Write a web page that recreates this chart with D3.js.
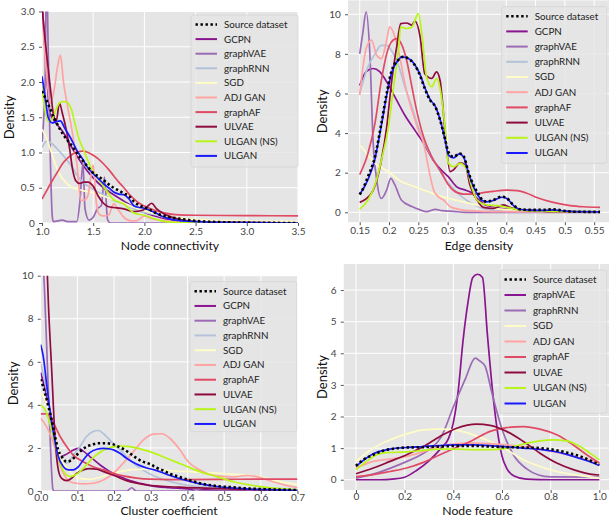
<!DOCTYPE html>
<html><head><meta charset="utf-8">
<script src="https://cdn.jsdelivr.net/npm/d3@7"></script>
<style>
body{margin:0;background:#fff}
text{font-family:Lato,'DejaVu Sans',sans-serif}
</style>
</head><body>
<svg id="c" width="609" height="518"></svg>
<script>
// ---------- legend / series ----------
const seriesNames = ["Source dataset","GCPN","graphVAE","graphRNN","SGD","ADJ GAN","graphAF","ULVAE","ULGAN (NS)","ULGAN"];
const seriesNamesNF = ["Source dataset","graphVAE","graphRNN","SGD","ADJ GAN","graphAF","ULVAE","ULGAN (NS)","ULGAN"];
const seriesColors = ["#000000","#8a1590","#9b6bb5","#b3c2d9","#fffcc6","#ffa3a3","#e04a64","#8e0b3f","#b8f516","#1a1aff"];
const seriesColorsNF = ["#000000","#8a1590","#9b6bb5","#fffcc6","#ffa3a3","#e04a64","#8e0b3f","#b8f516","#1a1aff"];

// ---------- axis labels / ticks ----------
const axisTitles = [["Node connectivity","Density"],["Edge density","Density"],["Cluster coefficient","Density"],["Node feature","Density"]];
const ncXTicks = [1.0,1.5,2.0,2.5,3.0,3.5], ncXLabels = ["1.0","1.5","2.0","2.5","3.0","3.5"];
const ncYTicks = [0,0.5,1.0,1.5,2.0,2.5,3.0], ncYLabels = ["0","0.5","1.0","1.5","2.0","2.5","3.0"];
const edXTicks = [0.15,0.2,0.25,0.3,0.35,0.4,0.45,0.5,0.55], edXLabels = ["0.15","0.2","0.25","0.3","0.35","0.4","0.45","0.5","0.55"];
const edYTicks = [0,2,4,6,8,10], edYLabels = ["0","2","4","6","8","10"];
const ccXTicks = [0,0.1,0.2,0.3,0.4,0.5,0.6,0.7], ccXLabels = ["0.0","0.1","0.2","0.3","0.4","0.5","0.6","0.7"];
const ccYTicks = [0,2,4,6,8,10], ccYLabels = ["0","2","4","6","8","10"];
const nfXTicks = [0,0.2,0.4,0.6,0.8,1.0], nfXLabels = ["0","0.2","0.4","0.6","0.8","1.0"];
const nfYTicks = [0,1,2,3,4,5,6], nfYLabels = ["0","1","2","3","4","5","6"];

// ---------- Node connectivity ----------
const ncSource = [[1.0,1.87],[1.05,1.72],[1.1,1.55],[1.15,1.4],[1.2,1.27],[1.25,1.17],[1.3,1.08],[1.35,0.97],[1.4,0.88],[1.45,0.79],[1.5,0.71],[1.55,0.66],[1.6,0.61],[1.65,0.55],[1.7,0.5],[1.75,0.46],[1.8,0.42],[1.85,0.38],[1.9,0.3],[1.95,0.25],[2.0,0.22],[2.05,0.19],[2.1,0.15],[2.15,0.12],[2.2,0.1],[2.3,0.07],[2.4,0.05],[2.5,0.03],[2.6,0.02],[2.8,0.01],[3.0,0.005],[3.5,0]];
const ncGCPN = [[1.0,3.2],[1.04,2.2],[1.08,1.55],[1.12,1.45],[1.2,1.3],[1.3,1.05],[1.4,0.82],[1.5,0.64],[1.6,0.5],[1.7,0.4],[1.8,0.31],[1.9,0.22],[2.0,0.15],[2.1,0.1],[2.2,0.06],[2.4,0.02],[2.6,0.01],[3.5,0]];
const ncGraphVAE = [[1.0,1.15],[1.03,2.0],[1.045,3.6],[1.06,2.5],[1.08,1.0],[1.1,0.1],[1.11,0.02],[1.2,0.04],[1.25,0.02],[1.34,0.02],[1.37,0.3],[1.4,0.85],[1.42,0.2],[1.46,0.04],[1.5,0.08],[1.54,0.2],[1.58,0.25],[1.61,0.65],[1.64,0.05],[1.67,0],[3.5,0]];
const ncGraphRNN = [[1.0,1.07],[1.05,1.16],[1.1,1.12],[1.15,1.05],[1.2,0.97],[1.25,0.88],[1.3,0.78],[1.35,0.66],[1.4,0.58],[1.5,0.48],[1.6,0.4],[1.7,0.32],[1.8,0.27],[1.9,0.2],[2.0,0.15],[2.1,0.12],[2.2,0.08],[2.4,0.04],[2.6,0.02],[3.0,0.01],[3.5,0]];
const ncSGD = [[1.0,1.33],[1.05,1.18],[1.1,0.96],[1.15,0.76],[1.2,0.63],[1.25,0.55],[1.3,0.5],[1.4,0.46],[1.5,0.43],[1.6,0.38],[1.7,0.33],[1.8,0.28],[1.9,0.22],[2.0,0.17],[2.2,0.1],[2.5,0.05],[3.0,0.03],[3.5,0.02]];
const ncAdjGAN = [[1.0,3.0],[1.04,2.2],[1.08,1.7],[1.12,1.9],[1.15,2.2],[1.18,2.38],[1.21,2.0],[1.25,1.65],[1.3,1.25],[1.34,0.85],[1.38,0.32],[1.42,0.33],[1.45,0.4],[1.5,0.82],[1.53,0.3],[1.56,0.12],[1.6,0.1],[1.65,0.11],[1.7,0.27],[1.74,0.2],[1.8,0.08],[1.87,0.03],[1.92,0.03],[2.0,0.1],[2.05,0.07],[2.1,0.05],[2.2,0.03],[2.4,0.01],[3.5,0]];
const ncGraphAF = [[1.0,0.34],[1.05,0.47],[1.1,0.6],[1.15,0.72],[1.2,0.84],[1.25,0.92],[1.3,0.98],[1.35,1.01],[1.4,1.02],[1.45,1.0],[1.5,0.96],[1.55,0.91],[1.6,0.84],[1.65,0.76],[1.7,0.67],[1.75,0.58],[1.8,0.5],[1.85,0.41],[1.9,0.34],[1.95,0.28],[2.0,0.24],[2.1,0.18],[2.2,0.14],[2.3,0.12],[2.5,0.11],[3.0,0.105],[3.5,0.1]];
const ncULVAE = [[1.0,3.05],[1.03,2.6],[1.06,2.2],[1.09,1.8],[1.11,1.55],[1.14,1.45],[1.17,1.7],[1.2,1.55],[1.24,1.3],[1.27,1.05],[1.3,0.75],[1.33,0.6],[1.37,0.56],[1.41,0.58],[1.45,0.58],[1.5,0.52],[1.55,0.38],[1.6,0.28],[1.65,0.23],[1.7,0.22],[1.8,0.2],[1.9,0.16],[1.98,0.18],[2.02,0.22],[2.07,0.28],[2.12,0.2],[2.18,0.14],[2.25,0.09],[2.35,0.05],[2.5,0.02],[2.7,0.01],[3.5,0]];
const ncULGANNS = [[1.0,1.94],[1.03,1.6],[1.06,1.44],[1.09,1.45],[1.12,1.55],[1.16,1.68],[1.19,1.72],[1.23,1.72],[1.26,1.69],[1.29,1.6],[1.32,1.42],[1.36,1.2],[1.4,1.06],[1.45,0.88],[1.5,0.72],[1.55,0.62],[1.6,0.52],[1.65,0.42],[1.7,0.33],[1.75,0.3],[1.8,0.27],[1.85,0.2],[1.9,0.14],[2.0,0.11],[2.1,0.06],[2.2,0.02],[2.3,0.01],[3.5,0]];
const ncULGAN = [[1.0,2.08],[1.03,1.8],[1.06,1.5],[1.1,1.42],[1.14,1.44],[1.18,1.45],[1.22,1.35],[1.27,1.23],[1.31,1.12],[1.34,1.03],[1.4,0.9],[1.44,0.8],[1.5,0.7],[1.55,0.63],[1.6,0.56],[1.65,0.5],[1.7,0.44],[1.75,0.41],[1.8,0.4],[1.85,0.34],[1.9,0.24],[1.95,0.22],[2.0,0.21],[2.05,0.18],[2.1,0.15],[2.15,0.11],[2.2,0.08],[2.3,0.04],[2.5,0.02],[2.7,0.01],[3.5,0]];

// ---------- Edge density ----------
const edSource = [[0.15,0.9],[0.153,1.04],[0.164,1.8],[0.176,2.8],[0.187,4.5],[0.196,6.0],[0.204,7.1],[0.216,7.7],[0.224,7.85],[0.236,7.7],[0.244,7.43],[0.253,6.9],[0.261,6.25],[0.27,5.66],[0.279,5.33],[0.287,4.66],[0.296,3.65],[0.301,3.06],[0.31,2.8],[0.32,2.97],[0.327,2.85],[0.336,1.97],[0.344,1.38],[0.352,0.96],[0.36,0.6],[0.367,0.54],[0.378,0.62],[0.392,0.79],[0.401,0.71],[0.412,0.37],[0.424,0.15],[0.44,0.12],[0.463,0.12],[0.48,0.15],[0.498,0.08],[0.515,0.03],[0.56,0.02]];
const edGCPN = [[0.15,6.4],[0.161,7.1],[0.173,7.26],[0.184,7.1],[0.196,6.59],[0.21,5.83],[0.227,4.9],[0.244,4.15],[0.259,3.5],[0.276,2.6],[0.29,2.1],[0.301,1.8],[0.315,1.3],[0.332,1.1],[0.34,1.0],[0.35,0.72],[0.367,0.32],[0.389,0.2],[0.424,0.12],[0.48,0.05],[0.56,0.02]];
const edGraphVAE = [[0.15,8.0],[0.155,9.0],[0.161,10.12],[0.167,8.18],[0.173,3.48],[0.179,1.63],[0.187,0.7],[0.196,1.13],[0.203,1.71],[0.21,1.38],[0.221,0.62],[0.239,0.29],[0.253,0.12],[0.264,0.03],[0.279,0.15],[0.29,0.08],[0.31,0.05],[0.33,0],[0.56,0]];
const edGraphRNN = [[0.15,6.0],[0.164,7.34],[0.176,8.0],[0.187,8.43],[0.196,8.43],[0.204,8.18],[0.216,7.43],[0.227,6.34],[0.239,5.33],[0.25,4.3],[0.264,3.3],[0.279,2.47],[0.293,1.8],[0.307,1.29],[0.324,0.79],[0.341,0.45],[0.36,0.2],[0.38,0.1],[0.4,0.05],[0.45,0.03],[0.56,0.02]];
const edSGD = [[0.15,3.4],[0.153,3.3],[0.176,2.47],[0.199,2.05],[0.221,1.55],[0.244,1.29],[0.267,1.04],[0.29,0.79],[0.313,0.62],[0.33,0.5],[0.344,0.4],[0.367,0.25],[0.395,0.15],[0.424,0.1],[0.48,0.05],[0.56,0.03]];
const edAdjGAN = [[0.15,5.92],[0.161,8.27],[0.17,8.69],[0.179,7.93],[0.187,7.76],[0.196,8.69],[0.201,9.36],[0.21,8.86],[0.219,7.76],[0.227,6.5],[0.239,5.16],[0.25,4.15],[0.259,3.48],[0.267,2.3],[0.276,1.13],[0.284,0.79],[0.293,0.62],[0.304,0.29],[0.319,0.15],[0.336,0.08],[0.36,0.05],[0.4,0.03],[0.56,0.01]];
const edGraphAF = [[0.15,1.9],[0.164,2.97],[0.176,4.49],[0.187,6.67],[0.196,8.0],[0.204,8.6],[0.213,8.77],[0.221,8.5],[0.23,7.68],[0.239,6.34],[0.247,5.16],[0.259,3.8],[0.273,2.8],[0.29,1.97],[0.301,1.4],[0.31,1.1],[0.327,0.92],[0.344,0.92],[0.361,0.99],[0.378,1.06],[0.4,1.12],[0.418,1.09],[0.435,0.96],[0.452,0.75],[0.48,0.5],[0.509,0.34],[0.532,0.28],[0.56,0.25]];
const edULVAE = [[0.15,0.5],[0.17,0.96],[0.187,2.64],[0.196,4.3],[0.204,6.5],[0.213,8.35],[0.22,9.53],[0.23,9.56],[0.239,9.45],[0.244,9.66],[0.253,8.86],[0.261,7.0],[0.273,6.76],[0.281,7.09],[0.287,6.67],[0.296,3.98],[0.304,2.05],[0.31,2.14],[0.321,2.5],[0.33,2.39],[0.338,1.38],[0.35,0.62],[0.361,0.25],[0.378,0.2],[0.395,0.37],[0.406,0.25],[0.424,0.12],[0.452,0.07],[0.48,0.03],[0.56,0.02]];
const edULGANNS = [[0.15,0.15],[0.164,0.62],[0.176,1.38],[0.187,2.64],[0.199,4.3],[0.207,6.17],[0.216,8.2],[0.22,9.36],[0.23,9.28],[0.239,9.36],[0.25,10.03],[0.256,9.0],[0.264,6.84],[0.273,6.34],[0.281,6.76],[0.287,6.25],[0.296,4.15],[0.301,2.5],[0.31,2.3],[0.321,2.47],[0.332,2.2],[0.341,1.3],[0.35,0.62],[0.367,0.37],[0.389,0.32],[0.4,0.25],[0.418,0.15],[0.44,0.08],[0.48,0.05],[0.56,0.02]];
const edULGAN = [[0.15,0.9],[0.164,1.65],[0.176,2.7],[0.187,4.4],[0.196,5.9],[0.204,7.0],[0.216,7.7],[0.222,7.85],[0.236,7.72],[0.244,7.45],[0.253,6.95],[0.261,6.3],[0.27,5.7],[0.279,5.35],[0.287,4.7],[0.296,3.6],[0.301,2.9],[0.31,2.75],[0.32,2.95],[0.327,2.8],[0.336,1.95],[0.344,1.3],[0.352,0.85],[0.36,0.58],[0.367,0.53],[0.378,0.6],[0.392,0.76],[0.401,0.7],[0.412,0.35],[0.424,0.14],[0.44,0.11],[0.463,0.1],[0.48,0.12],[0.498,0.07],[0.515,0.03],[0.56,0.02]];

// ---------- Cluster coefficient ----------
const ccSource = [[0,5.2],[0.012,4.54],[0.021,3.92],[0.03,3.3],[0.039,2.53],[0.048,1.9],[0.057,1.6],[0.071,1.36],[0.084,1.44],[0.098,1.67],[0.112,1.9],[0.125,2.06],[0.139,2.14],[0.157,2.22],[0.175,2.22],[0.193,2.19],[0.212,2.06],[0.23,1.9],[0.243,1.75],[0.262,1.52],[0.28,1.35],[0.298,1.25],[0.316,1.08],[0.334,0.95],[0.352,0.8],[0.37,0.7],[0.389,0.59],[0.41,0.48],[0.434,0.36],[0.48,0.23],[0.525,0.17],[0.57,0.11],[0.616,0.08],[0.68,0.05],[0.7,0.04]];
const ccGCPN = [[0,5.5],[0.015,4.5],[0.03,3.0],[0.045,1.8],[0.055,1.6],[0.066,1.67],[0.089,1.9],[0.103,1.98],[0.116,1.85],[0.134,1.6],[0.162,1.21],[0.189,0.9],[0.216,0.67],[0.243,0.48],[0.271,0.36],[0.298,0.25],[0.35,0.15],[0.4,0.1],[0.45,0.05],[0.55,0.02],[0.7,0.01]];
const ccGraphVAE = [[0,12],[0.01,9.5],[0.02,5.0],[0.028,1.5],[0.033,0.1],[0.036,0],[0.235,0],[0.248,0.15],[0.26,0],[0.41,0],[0.425,0.08],[0.44,0],[0.7,0]];
const ccGraphRNN = [[0,5.9],[0.016,4.7],[0.03,3.3],[0.044,2.06],[0.057,1.44],[0.071,1.29],[0.089,1.67],[0.107,2.06],[0.125,2.53],[0.143,2.76],[0.157,2.81],[0.175,2.6],[0.193,2.29],[0.212,1.98],[0.23,1.67],[0.248,1.36],[0.271,1.05],[0.298,0.79],[0.325,0.59],[0.361,0.4],[0.398,0.28],[0.45,0.18],[0.5,0.12],[0.6,0.07],[0.7,0.04]];
const ccSGD = [[0,4.6],[0.016,4.08],[0.035,2.84],[0.048,1.83],[0.062,1.29],[0.075,0.98],[0.089,0.74],[0.107,0.59],[0.134,0.54],[0.162,0.64],[0.189,0.79],[0.216,0.9],[0.243,0.98],[0.271,1.01],[0.298,1.01],[0.325,0.98],[0.361,0.93],[0.4,0.9],[0.45,0.86],[0.5,0.8],[0.55,0.75],[0.6,0.65],[0.65,0.45],[0.7,0.3]];
const ccAdjGAN = [[0,3.38],[0.016,2.99],[0.035,2.22],[0.048,1.44],[0.062,0.82],[0.08,0.43],[0.098,0.36],[0.116,0.33],[0.143,0.36],[0.171,0.51],[0.198,0.82],[0.225,1.29],[0.253,1.83],[0.28,2.37],[0.307,2.64],[0.33,2.66],[0.352,2.45],[0.38,1.9],[0.402,1.36],[0.434,0.98],[0.48,0.7],[0.525,0.65],[0.56,0.72],[0.585,0.68],[0.62,0.5],[0.66,0.3],[0.7,0.15]];
const ccGraphAF = [[0,3.58],[0.016,3.58],[0.035,3.15],[0.053,2.53],[0.071,2.06],[0.089,1.67],[0.116,1.36],[0.143,1.13],[0.171,0.98],[0.198,0.82],[0.225,0.7],[0.262,0.6],[0.298,0.55],[0.35,0.53],[0.4,0.53],[0.5,0.54],[0.6,0.55],[0.7,0.55]];
const ccULVAE = [[0,14],[0.01,13],[0.016,11],[0.021,8.7],[0.03,5.6],[0.039,2.5],[0.048,0.98],[0.057,0.59],[0.071,0.48],[0.084,0.59],[0.098,0.82],[0.116,0.98],[0.134,1.04],[0.153,1.01],[0.171,0.9],[0.189,0.79],[0.207,0.67],[0.234,0.48],[0.262,0.36],[0.289,0.28],[0.33,0.22],[0.389,0.17],[0.48,0.12],[0.57,0.07],[0.7,0.05]];
const ccULGANNS = [[0,4.0],[0.012,3.77],[0.025,3.15],[0.039,2.22],[0.053,1.29],[0.066,0.82],[0.08,0.67],[0.094,0.74],[0.107,0.9],[0.125,1.21],[0.143,1.55],[0.162,1.8],[0.18,1.96],[0.198,2.05],[0.216,2.08],[0.234,2.07],[0.253,2.03],[0.271,1.96],[0.298,1.83],[0.343,1.52],[0.389,1.21],[0.434,0.9],[0.48,0.67],[0.525,0.43],[0.57,0.28],[0.616,0.17],[0.68,0.08],[0.7,0.06]];
const ccULGAN = [[0,6.8],[0.007,6.25],[0.016,5.0],[0.025,3.77],[0.035,2.68],[0.048,1.6],[0.062,1.13],[0.075,0.98],[0.089,0.98],[0.103,1.13],[0.116,1.44],[0.134,1.78],[0.153,1.94],[0.171,1.98],[0.189,1.95],[0.2,1.9],[0.216,1.75],[0.234,1.52],[0.253,1.32],[0.271,1.18],[0.289,1.07],[0.31,0.98],[0.343,0.78],[0.389,0.52],[0.434,0.33],[0.48,0.21],[0.525,0.14],[0.57,0.09],[0.62,0.06],[0.7,0.03]];

// ---------- Node feature ----------
const nfSource = [[0,0.44],[0.03,0.63],[0.071,0.79],[0.112,0.92],[0.153,0.98],[0.208,1.02],[0.277,1.03],[0.345,1.05],[0.414,1.07],[0.482,1.07],[0.551,1.05],[0.619,1.03],[0.688,1.02],[0.756,1.0],[0.811,0.95],[0.866,0.86],[0.921,0.74],[0.962,0.61],[1.0,0.47]];
const nfGraphVAE = [[0,0],[0.1,0],[0.15,0.02],[0.2,0.08],[0.25,0.3],[0.3,0.6],[0.35,1.0],[0.38,1.3],[0.4,1.8],[0.42,2.8],[0.44,4.4],[0.46,5.6],[0.48,6.4],[0.5,6.5],[0.52,6.4],[0.54,4.6],[0.56,2.9],[0.58,1.6],[0.6,0.75],[0.62,0.35],[0.65,0.12],[0.7,0.02],[0.8,0],[1.0,0]];
const nfGraphRNN = [[0,0.05],[0.1,0.25],[0.2,0.55],[0.25,0.72],[0.3,0.95],[0.35,1.35],[0.4,2.3],[0.45,3.2],[0.49,3.85],[0.51,3.75],[0.53,3.6],[0.56,2.7],[0.6,1.6],[0.65,0.75],[0.7,0.35],[0.75,0.15],[0.8,0.09],[1.0,0.08]];
const nfSGD = [[0,0.58],[0.071,1.0],[0.14,1.26],[0.208,1.45],[0.277,1.58],[0.345,1.6],[0.414,1.56],[0.482,1.42],[0.551,1.21],[0.619,0.95],[0.688,0.63],[0.756,0.42],[0.825,0.26],[0.893,0.16],[1.0,0.05]];
const nfAdjGAN = [[0,0.37],[0.071,0.58],[0.14,0.65],[0.208,0.74],[0.277,0.89],[0.345,1.05],[0.414,1.14],[0.482,1.16],[0.551,1.14],[0.619,1.1],[0.688,1.05],[0.756,0.97],[0.825,0.86],[0.893,0.74],[0.948,0.63],[1.0,0.55]];
const nfGraphAF = [[0,0.1],[0.071,0.16],[0.14,0.26],[0.208,0.37],[0.277,0.55],[0.345,0.79],[0.414,1.03],[0.482,1.26],[0.551,1.53],[0.619,1.65],[0.688,1.68],[0.756,1.6],[0.825,1.42],[0.893,1.1],[0.948,0.79],[1.0,0.53]];
const nfULVAE = [[0,0.19],[0.071,0.37],[0.14,0.58],[0.208,0.79],[0.277,1.05],[0.345,1.37],[0.414,1.63],[0.496,1.76],[0.551,1.72],[0.619,1.53],[0.688,1.21],[0.756,0.84],[0.825,0.53],[0.893,0.32],[0.962,0.18],[1.0,0.15]];
const nfULGANNS = [[0,0.32],[0.044,0.58],[0.085,0.79],[0.126,0.86],[0.208,0.88],[0.277,0.93],[0.345,0.97],[0.414,0.97],[0.482,0.95],[0.551,0.95],[0.619,1.0],[0.688,1.13],[0.756,1.23],[0.811,1.26],[0.866,1.23],[0.921,1.05],[0.962,0.84],[1.0,0.63]];
const nfULGAN = [[0,0.42],[0.071,0.82],[0.14,0.97],[0.208,1.02],[0.277,1.05],[0.345,1.08],[0.414,1.1],[0.482,1.1],[0.551,1.08],[0.619,1.04],[0.688,1.0],[0.756,0.96],[0.811,0.9],[0.866,0.8],[0.921,0.67],[0.962,0.57],[1.0,0.45]];

// ---------- layout ----------
const panels = [
  {rect:[42,298,11.5,223], xd:[1.0,3.5], yd:[0,3], xt:ncXTicks, xl:ncXLabels, yt:ncYTicks, yl:ncYLabels, titles:axisTitles[0],
   names:seriesNames, colors:seriesColors, data:[ncSource,ncGCPN,ncGraphVAE,ncGraphRNN,ncSGD,ncAdjGAN,ncGraphAF,ncULVAE,ncULGANNS,ncULGAN],
   leg:{x:191,y:15,w:107,h:152,row:14.6,ylab:14, xlabY:250, xpad:1.5}},
  {rect:[348,610,0.4,222.2], xd:[0.13,0.577], yd:[-0.5,10.7], xt:edXTicks, xl:edXLabels, yt:edYTicks, yl:edYLabels, titles:axisTitles[1],
   names:seriesNames, colors:seriesColors, data:[edSource,edGCPN,edGraphVAE,edGraphRNN,edSGD,edAdjGAN,edGraphAF,edULVAE,edULGANNS,edULGAN],
   leg:{x:501.7,y:6.7,w:105,h:156.6,row:15.2,ylab:327, xlabY:250, xpad:1.5}},
  {rect:[40.7,297.5,275.7,491], xd:[0,0.7], yd:[0,10], xt:ccXTicks, xl:ccXLabels, yt:ccYTicks, yl:ccYLabels, titles:axisTitles[2],
   names:seriesNames, colors:seriesColors, data:[ccSource,ccGCPN,ccGraphVAE,ccGraphRNN,ccSGD,ccAdjGAN,ccGraphAF,ccULVAE,ccULGANNS,ccULGAN],
   leg:{x:190,y:281.7,w:106.7,h:150,row:14.75,ylab:18, xlabY:515.2, xpad:0}},
  {rect:[343.8,611.5,264,490], xd:[-0.05,1.05], yd:[-0.325,6.825], xt:nfXTicks, xl:nfXLabels, yt:nfYTicks, yl:nfYLabels, titles:axisTitles[3],
   names:seriesNamesNF, colors:seriesColorsNF, data:[nfSource,nfGraphVAE,nfGraphRNN,nfSGD,nfAdjGAN,nfGraphAF,nfULVAE,nfULGANNS,nfULGAN],
   leg:{x:500,y:270,w:106.7,h:143.3,row:15.5,ylab:327, xlabY:515.2, xpad:0}}
];

const svg = d3.select("#c");
const defs = svg.append("defs");

panels.forEach((p, pi) => {
  const [L,R,T,B] = p.rect;
  const x = d3.scaleLinear().domain(p.xd).range([L,R]);
  const y = d3.scaleLinear().domain(p.yd).range([B,T]);
  const g = svg.append("g");
  defs.append("clipPath").attr("id","clip"+pi).append("rect").attr("x",L).attr("y",T).attr("width",R-L).attr("height",B-T);

  g.append("rect").attr("x",L).attr("y",T).attr("width",R-L).attr("height",B-T).attr("fill","#e5e5e5");

  // grid
  g.append("g").selectAll("line").data(p.xt).join("line")
    .attr("x1",d=>x(d)).attr("x2",d=>x(d)).attr("y1",T).attr("y2",B)
    .attr("stroke","#ffffff").attr("stroke-width",1);
  g.append("g").selectAll("line").data(p.yt).join("line")
    .attr("y1",d=>y(d)).attr("y2",d=>y(d)).attr("x1",L).attr("x2",R)
    .attr("stroke","#ffffff").attr("stroke-width",1);

  // axes
  const xa = g.append("g").attr("transform",`translate(0,${B})`)
    .call(d3.axisBottom(x).tickValues(p.xt).tickFormat((d,i)=>p.xl[i]).tickSize(3).tickPadding(p.leg.xpad));
  const ya = g.append("g").attr("transform",`translate(${L},0)`)
    .call(d3.axisLeft(y).tickValues(p.yt).tickFormat((d,i)=>p.yl[i]).tickSize(3).tickPadding(4.2));
  [xa,ya].forEach(a=>{
    a.select(".domain").remove();
    a.selectAll(".tick line").attr("stroke","#555");
    a.selectAll(".tick text").attr("fill","#444").style("font-size","10px").style("font-family","Lato");
  });

  // lines
  const line = d3.line().x(d=>x(d[0])).y(d=>y(d[1])).curve(d3.curveMonotoneX);
  const lg = g.append("g").attr("clip-path",`url(#clip${pi})`);
  for (let i = 1; i < p.data.length; i++) {
    lg.append("path").attr("d",line(p.data[i])).attr("fill","none")
      .attr("stroke",p.colors[i]).attr("stroke-width",1.7).attr("stroke-linejoin","round");
  }
  lg.append("path").attr("d",line(p.data[0])).attr("fill","none")
    .attr("stroke","#000").attr("stroke-width",2.6).attr("stroke-dasharray","2.4,2.6");

  // axis titles
  g.append("text").attr("x",(L+R)/2).attr("y",p.leg.xlabY).attr("text-anchor","middle")
    .style("font-size","12.2px").attr("fill","#111").text(p.titles[0]);
  g.append("text").attr("transform",`translate(${p.leg.ylab},${(T+B)/2}) rotate(-90)`).attr("text-anchor","middle")
    .style("font-size","13px").attr("fill","#111").text(p.titles[1]);

  // legend
  const lgd = g.append("g");
  lgd.append("rect").attr("x",p.leg.x).attr("y",p.leg.y).attr("width",p.leg.w).attr("height",p.leg.h)
    .attr("rx",2).attr("fill","#e5e5e5").attr("fill-opacity",0.85).attr("stroke","#d4d4d4").attr("stroke-width",0.8);
  p.names.forEach((n,i)=>{
    const cy = p.leg.y + 9.5 + i*p.leg.row;
    const ln = lgd.append("line").attr("x1",p.leg.x+4.5).attr("x2",p.leg.x+26).attr("y1",cy).attr("y2",cy)
      .attr("stroke",p.colors[i]).attr("stroke-width",i===0?2.6:2);
    if (i===0) ln.attr("stroke-dasharray","2.4,2.6");
    lgd.append("text").attr("x",p.leg.x+33).attr("y",cy).attr("dy","0.35em")
      .style("font-size","9.8px").attr("fill","#222").text(n);
  });
});
</script>
</body></html>
